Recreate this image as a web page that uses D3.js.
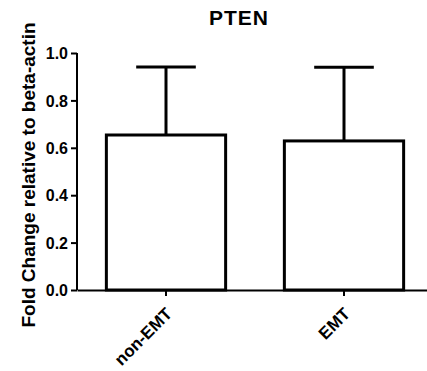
<!DOCTYPE html>
<html>
<head>
<meta charset="utf-8" />
<title>PTEN</title>
<style>
body { margin: 0; background: #fff; }
svg text { font-family: Arial, "Liberation Sans", sans-serif; font-weight: bold; fill: #000; }
</style>
</head>
<body>
<div id="chart"></div>
<script src="https://d3js.org/d3.v7.min.js"></script>
<script>
// chart values
var categories = ["non-EMT", "EMT"];
var means = [0.654, 0.629];
var errUpper = [0.941, 0.94];
var yTicks = [0.0, 0.2, 0.4, 0.6, 0.8, 1.0];

var width = 427, height = 371;
var svg = d3.select("#chart").append("svg")
  .attr("width", width)
  .attr("height", height);

var y = d3.scaleLinear().domain([0, 1]).range([290, 53]);
var x = d3.scaleBand().domain(categories).range([77, 433])
  .paddingInner(0.33).paddingOuter(0.165);

// title
svg.append("text")
  .attr("x", 239).attr("y", 25)
  .attr("text-anchor", "middle")
  .style("font-size", "21px")
  .style("letter-spacing", "1px")
  .text("PTEN");

// y axis
var yAxis = svg.append("g").attr("transform", "translate(77,0)")
  .call(d3.axisLeft(y).tickValues(yTicks).tickFormat(d3.format(".1f")).tickSize(6).tickSizeOuter(0));
yAxis.select(".domain").attr("stroke-width", 2).attr("d", "M0," + y(1) + "V" + y(0));
yAxis.selectAll(".tick line").attr("stroke-width", 2);
yAxis.selectAll(".tick text").style("font-size", "16px").attr("x", -9).attr("dy", "0.36em");

// y label
svg.append("text")
  .attr("transform", "translate(35,175) rotate(-90)")
  .attr("text-anchor", "middle")
  .style("font-size", "19px")
  .text("Fold Change relative to beta-actin");

// bars
var bw = x.bandwidth();
svg.selectAll("rect.bar").data(means).enter().append("rect")
  .attr("class", "bar")
  .attr("x", function(d, i){ return x(categories[i]); })
  .attr("y", function(d){ return y(d); })
  .attr("width", bw)
  .attr("height", function(d){ return y(0) - y(d); })
  .attr("fill", "#fff")
  .attr("stroke", "#000")
  .attr("stroke-width", 3);

// error bars (upper only)
var eb = svg.selectAll("g.err").data(means).enter().append("g").attr("class", "err");
eb.append("line")
  .attr("x1", function(d, i){ return x(categories[i]) + bw / 2; })
  .attr("x2", function(d, i){ return x(categories[i]) + bw / 2; })
  .attr("y1", function(d){ return y(d); })
  .attr("y2", function(d, i){ return y(errUpper[i]); })
  .attr("stroke", "#000").attr("stroke-width", 3);
eb.append("line")
  .attr("x1", function(d, i){ return x(categories[i]) + bw / 4; })
  .attr("x2", function(d, i){ return x(categories[i]) + bw * 3 / 4; })
  .attr("y1", function(d, i){ return y(errUpper[i]); })
  .attr("y2", function(d, i){ return y(errUpper[i]); })
  .attr("stroke", "#000").attr("stroke-width", 3);

// x axis
var xAxis = svg.append("g").attr("transform", "translate(0,290)")
  .call(d3.axisBottom(x).tickSize(6).tickSizeOuter(0));
xAxis.select(".domain").attr("stroke-width", 2);
xAxis.selectAll(".tick line").attr("stroke-width", 2);
xAxis.selectAll(".tick text")
  .style("font-size", "17px")
  .attr("text-anchor", "end")
  .attr("x", 0).attr("y", 0).attr("dy", 0)
  .attr("transform", "translate(7,25) rotate(-45)");
</script>
</body>
</html>
